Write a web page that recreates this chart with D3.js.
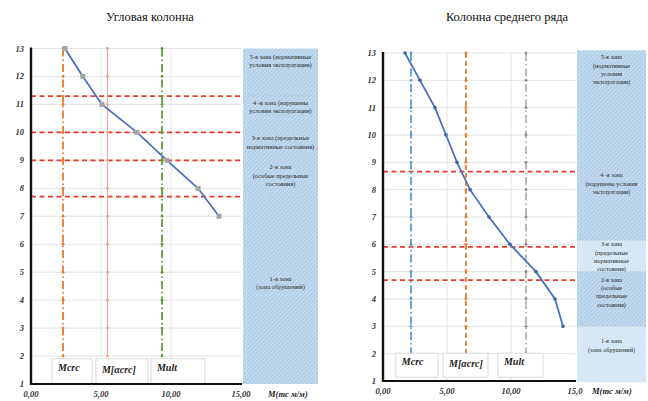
<!DOCTYPE html>
<html>
<head>
<meta charset="utf-8">
<script src="https://cdn.jsdelivr.net/npm/d3@7"></script>
<style>
  body { margin: 0; background: #fff; }
  svg { display: block; font-family: "Liberation Serif", "DejaVu Serif", serif; }
</style>
</head>
<body>
<div id="container"></div>
<script>
/* DATA */
const yTicks = [1, 2, 3, 4, 5, 6, 7, 8, 9, 10, 11, 12, 13]
const xTicks = [0, 5, 10, 15]

// Угловая колонна
const cornerLevels = [13, 12, 11, 10, 9, 8, 7]
const cornerMoment = [2.43, 3.7, 5.07, 7.57, 9.71, 11.93, 13.43]
const cornerRefNames = ["Mcrc", "M[αcrc]", "Mult"]
const cornerRefValues = [2.29, 5.46, 9.36]
const cornerRedLines = [11.3, 10.0, 9.0, 7.7]
const cornerZoneBounds = [13, 11.3, 10.0, 9.0, 7.7, 1]
const cornerZoneText = [
  ["5-я зона (нормативные", "условия эксплуатации)"],
  ["4 -я зона (нарушены", "условия эксплуатации)"],
  ["3-я зона (предельные", "нормативные состояния)"],
  ["2-я зона", "(особые предельные", "состояния)"],
  ["1-я зона", "(зона обрушений)"]
]

// Колонна среднего ряда
const middleLevels = [13, 12, 11, 10, 9, 8, 7, 6, 5, 4, 3]
const middleMoment = [1.72, 2.89, 4.06, 4.92, 5.78, 6.8, 8.28, 9.92, 11.95, 13.44, 14.06]
const middleRefNames = ["Mcrc", "M[αcrc]", "Mult"]
const middleRefValues = [2.19, 6.48, 11.17]
const middleRedLines = [8.66, 5.91, 4.69]
const middleZoneBounds = [13.1, 8.78, 6.15, 5.0, 3.0, 0.95]
const middleZoneText = [
  ["5-я зона", "(нормативные", "условия", "эксплуатации)"],
  ["4 -я зона", "(нарушены условия", "эксплуатации)"],
  ["3-я зона", "(предельные", "нормативные", "состояния)"],
  ["2-я зона", "(особые", "предельные", "состояния)"],
  ["1-я зона", "(зона обрушений)"]
]

/* SVG */
const width = 648, height = 401
const svg = d3.select("#container").append("svg")
  .attr("width", width).attr("height", height)

const defs = svg.append("defs")
function hatch(id, bg) {
  const p = defs.append("pattern")
    .attr("id", id)
    .attr("patternUnits", "userSpaceOnUse")
    .attr("width", 3).attr("height", 3)
    .attr("patternTransform", "rotate(45)")
  p.append("rect").attr("width", 3).attr("height", 3).attr("fill", bg)
  p.append("line").attr("x1", 0).attr("y1", 0).attr("x2", 0).attr("y2", 3)
    .attr("stroke", "#eef5fb").attr("stroke-width", 0.9)
}
hatch("hatchDark", "#b0cfea")
hatch("hatchLight", "#d3e5f4")

function drawChart(cfg) {
  const x = d3.scaleLinear().domain([0, 15]).range(cfg.xRange)
  const y = d3.scaleLinear().domain([1, 13]).range(cfg.yRange)
  const g = svg.append("g")

  // title
  g.append("text")
    .attr("x", cfg.titleX).attr("y", 21)
    .attr("text-anchor", "middle")
    .attr("font-size", 12.5)
    .attr("fill", "#111")
    .text(cfg.title)

  // grid
  g.selectAll(".hgrid").data(yTicks.slice(1)).join("line")
    .attr("x1", x(0)).attr("x2", x(15))
    .attr("y1", d => y(d)).attr("y2", d => y(d))
    .attr("stroke", "#dcdcdc").attr("stroke-width", 0.8)
  g.selectAll(".vgrid").data([5, 10]).join("line")
    .attr("x1", d => x(d)).attr("x2", d => x(d))
    .attr("y1", y(13)).attr("y2", y(1))
    .attr("stroke", "#dcdcdc").attr("stroke-width", 0.8)

  // zone panel
  cfg.zoneBounds.slice(0, -1).forEach((top, i) => {
    const bottom = cfg.zoneBounds[i + 1]
    const y0 = y(top), y1 = y(bottom)
    g.append("rect")
      .attr("x", cfg.panelX[0]).attr("y", y0)
      .attr("width", cfg.panelX[1] - cfg.panelX[0]).attr("height", y1 - y0)
      .attr("fill", cfg.zoneFill[i] ? "url(#hatchDark)" : "url(#hatchLight)")
    if (i > 0) {
      g.append("line")
        .attr("x1", cfg.panelX[0]).attr("x2", cfg.panelX[1])
        .attr("y1", y0).attr("y2", y0)
        .attr("stroke", "#9bb3c8").attr("stroke-width", 0.8)
        .attr("stroke-dasharray", "1,1.5")
    }
    const lines = cfg.zoneText[i]
    const cx = (cfg.panelX[0] + cfg.panelX[1]) / 2
    const ty = y0 + cfg.zoneTextOffset[i]
    g.append("text")
      .attr("text-anchor", "middle")
      .attr("font-size", cfg.zoneFont)
      .attr("fill", "#2a2a2a")
      .selectAll("tspan").data(lines).join("tspan")
      .attr("x", cx)
      .attr("y", (d, j) => ty + j * 8.3)
      .text(d => d)
  })

  // red dashed zone lines
  g.selectAll(".red").data(cfg.redLines).join("line")
    .attr("x1", x(0)).attr("x2", x(15))
    .attr("y1", d => y(d)).attr("y2", d => y(d))
    .attr("stroke", "#e53a2f").attr("stroke-width", 1.8)
    .attr("stroke-dasharray", "5,3.5")

  // reference vertical lines
  const refLevels = yTicks.slice(1)
  cfg.refValues.forEach((v, i) => {
    const st = cfg.refStyle[i]
    g.append("line")
      .attr("x1", x(v)).attr("x2", x(v))
      .attr("y1", y(13)).attr("y2", y(2))
      .attr("stroke", st.color).attr("stroke-width", st.width)
      .attr("stroke-dasharray", st.dash)
    g.selectAll(".m" + i).data(refLevels).join("circle")
      .attr("cx", x(v)).attr("cy", d => y(d)).attr("r", 1.4)
      .attr("fill", st.color)
  })

  // main curve
  const pts = cfg.levels.map((l, i) => [cfg.moment[i], l])
  g.append("path")
    .datum(pts)
    .attr("fill", "none")
    .attr("stroke", "#4a72c0").attr("stroke-width", 1.8)
    .attr("d", d3.line().x(d => x(d[0])).y(d => y(d[1])))
  if (cfg.squareMarkers) {
    g.selectAll(".pt").data(pts).join("rect")
      .attr("x", d => x(d[0]) - 2.5).attr("y", d => y(d[1]) - 2.5)
      .attr("width", 5).attr("height", 5)
      .attr("fill", "#a5a5a5")
  } else {
    g.selectAll(".pt").data(pts).join("circle")
      .attr("cx", d => x(d[0])).attr("cy", d => y(d[1])).attr("r", 1.8)
      .attr("fill", "#3f63a8")
  }

  // label boxes
  cfg.refNames.forEach((name, i) => {
    const b = cfg.boxes[i]
    g.append("rect")
      .attr("x", x(b[0])).attr("y", y(b[3]))
      .attr("width", x(b[1]) - x(b[0])).attr("height", y(b[2]) - y(b[3]))
      .attr("fill", "#fff").attr("stroke", "#d0d0d0").attr("stroke-width", 0.8)
    g.append("text")
      .attr("x", x(b[0]) + 6).attr("y", y(b[3]) + (i === 1 ? 14 : 12))
      .attr("font-size", 10).attr("font-weight", "bold").attr("font-style", "italic")
      .attr("fill", "#222")
      .text(name)
  })

  // axes
  g.append("line")
    .attr("x1", x(0)).attr("x2", x(0))
    .attr("y1", y(13) - 1).attr("y2", y(1) + 1)
    .attr("stroke", "#111").attr("stroke-width", 2.4)
  g.append("line")
    .attr("x1", x(0)).attr("x2", x(15) + 1)
    .attr("y1", y(1)).attr("y2", y(1))
    .attr("stroke", "#111").attr("stroke-width", 2)

  g.selectAll(".yl").data(yTicks).join("text")
    .attr("x", x(0) - 7).attr("y", d => y(d) + 3)
    .attr("text-anchor", "end")
    .attr("font-size", 8.5).attr("font-weight", "bold").attr("font-style", "italic")
    .attr("fill", "#333")
    .text(d => d)
  g.selectAll(".xl").data(xTicks).join("text")
    .attr("x", d => x(d)).attr("y", y(1) + 13)
    .attr("text-anchor", "middle")
    .attr("font-size", 8.5).attr("font-weight", "bold").attr("font-style", "italic")
    .attr("fill", "#333")
    .text((d, i) => cfg.xLabels[i])
  g.append("text")
    .attr("x", cfg.unitX).attr("y", y(1) + 13)
    .attr("font-size", 8.5).attr("font-weight", "bold").attr("font-style", "italic")
    .attr("fill", "#222")
    .text("M(тс м/м)")
}

drawChart({
  title: "Угловая колонна", titleX: 150,
  xRange: [31, 241], yRange: [384, 48.5],
  levels: cornerLevels, moment: cornerMoment,
  refNames: cornerRefNames, refValues: cornerRefValues,
  refStyle: [
    { color: "#ee7a2e", width: 1.8, dash: "8,3,1.5,3" },
    { color: "#eba08c", width: 1, dash: null },
    { color: "#5c9e3a", width: 1.8, dash: "8,3,1.5,3" }
  ],
  redLines: cornerRedLines,
  zoneBounds: cornerZoneBounds, zoneText: cornerZoneText,
  zoneFill: [1, 1, 1, 1, 1],
  zoneFont: 6.4,
  zoneTextOffset: [10, 9, 8, 9, 84],
  panelX: [243, 318],
  squareMarkers: true,
  boxes: [[1.5, 4.36, 1, 1.9], [4.64, 8.36, 1, 1.9], [8.57, 12.43, 1, 1.9]],
  xLabels: ["0,00", "5,00", "10,00", "15,00"],
  unitX: 268
})

drawChart({
  title: "Колонна среднего ряда", titleX: 507,
  xRange: [383, 575], yRange: [381, 53],
  levels: middleLevels, moment: middleMoment,
  refNames: middleRefNames, refValues: middleRefValues,
  refStyle: [
    { color: "#5b9bd5", width: 1.8, dash: "8,3,1.5,3" },
    { color: "#ed7d31", width: 1.8, dash: "5,3" },
    { color: "#8c8c8c", width: 1.2, dash: "8,3,1.5,3" }
  ],
  redLines: middleRedLines,
  zoneBounds: middleZoneBounds, zoneText: middleZoneText,
  zoneFont: 6.2,
  zoneFill: [1, 1, 0, 1, 0],
  zoneTextOffset: [9, 9, 6, 10, 17],
  panelX: [577, 646],
  squareMarkers: false,
  boxes: [[1.0, 4.3, 1.14, 2.02], [4.69, 8.2, 1.14, 2.02], [8.98, 12.5, 1.14, 2.02]],
  xLabels: ["0,00", "5,00", "10,00", "15,0"],
  unitX: 592
})
</script>
</body>
</html>
